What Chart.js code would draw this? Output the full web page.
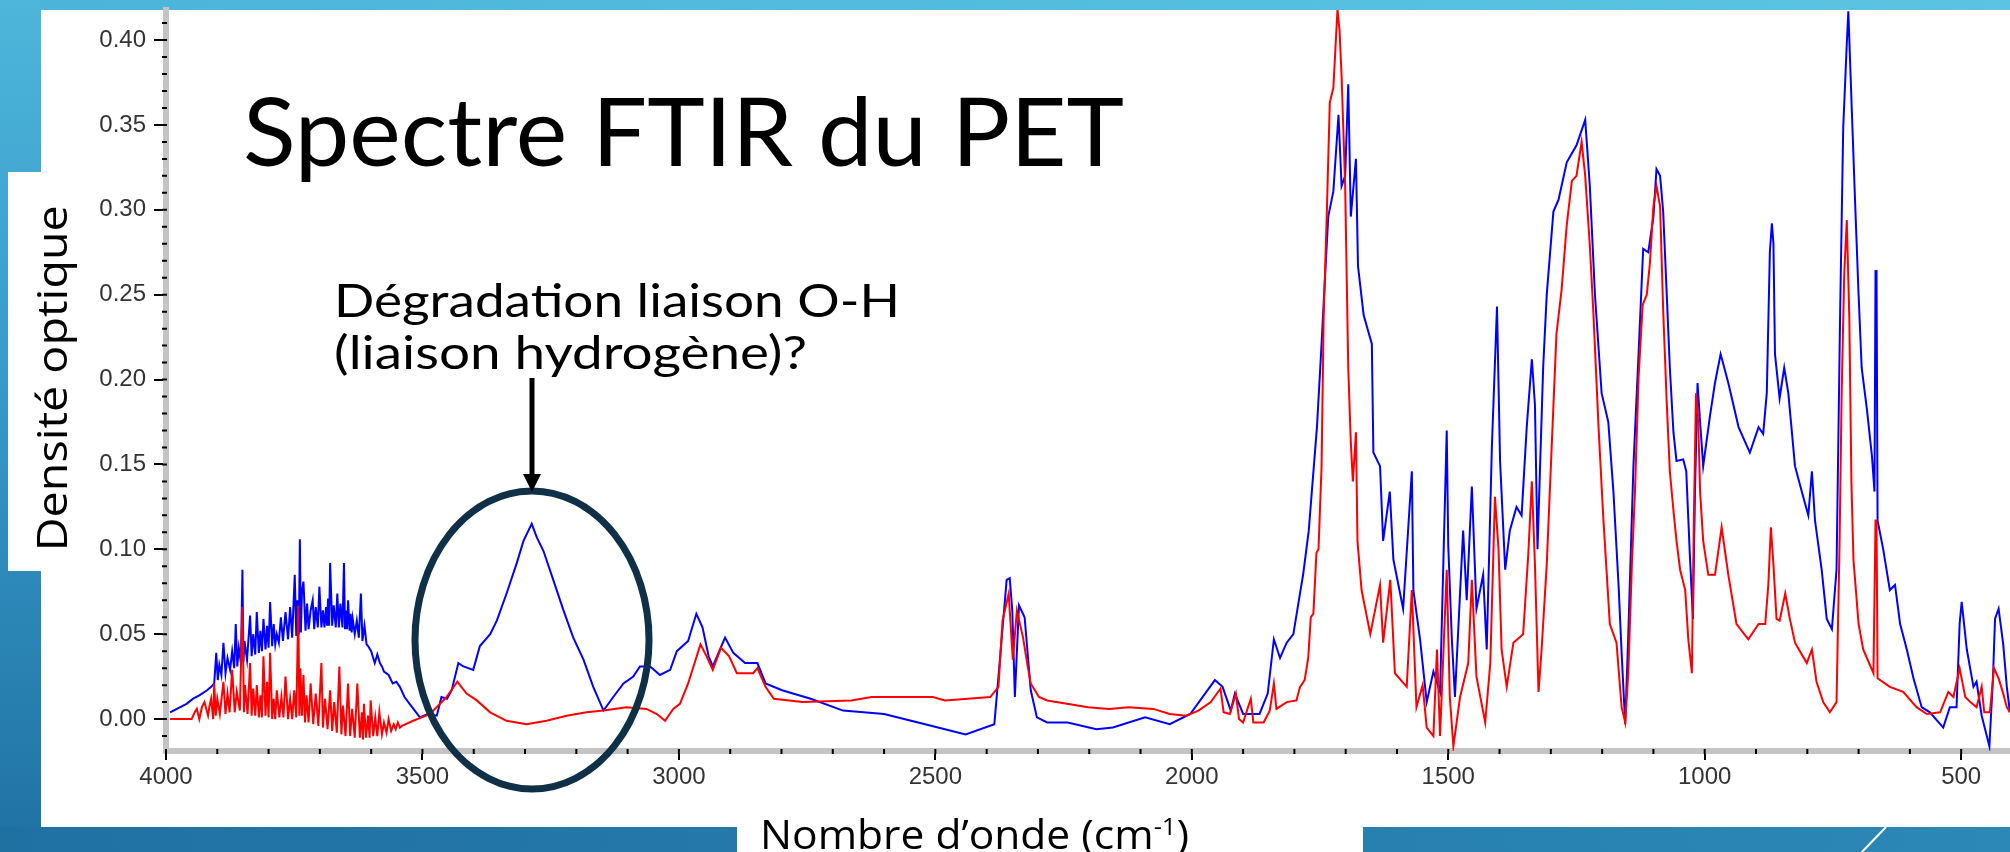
<!DOCTYPE html>
<html lang="fr">
<head>
<meta charset="utf-8">
<title>Spectre FTIR du PET</title>
<script src="https://cdn.jsdelivr.net/npm/chart.js"></script>
<style>
    body { margin: 0; }
    #slide { position: relative; width: 2010px; height: 852px; overflow: hidden; background: #ffffff; }
    .band { position: absolute; }
    #topBand { left: 0; top: 0; width: 2010px; height: 10px; background: linear-gradient(90deg, #4cb4d9, #5cc4e2); }
    #leftBand { left: 0; top: 0; width: 41px; height: 852px; background: linear-gradient(180deg, #4db6da, #3596c6 50%, #1f72a3); }
    #bottomLeft { left: 0; top: 827px; width: 737px; height: 25px; background: linear-gradient(90deg, #1f71a2, #2479aa); }
    #bottomRight { left: 1363px; top: 827px; width: 647px; height: 25px; background: linear-gradient(90deg, #2780b0, #2c88b6); }
    #yBox { left: 8px; top: 172px; width: 40px; height: 399px; background: #ffffff; }
    canvas { position: absolute; left: 0; top: 0; }
    svg { position: absolute; left: 0; top: 0; }
    .txt { position: absolute; white-space: nowrap; color: #000; line-height: 1; font-feature-settings: "liga" 0, "clig" 0, "dlig" 0; }
    .txt span { display: inline-block; transform-origin: 0 50%; }
</style>
</head>
<body>
<div id="slide">
    <div class="band" id="topBand"></div>
    <div class="band" id="leftBand"></div>
    <div class="band" id="bottomLeft"></div>
    <div class="band" id="bottomRight"></div>
    <div class="band" id="yBox"></div>
    <canvas id="spectre" width="2010" height="852"></canvas>
    <svg width="2010" height="852">
        <line x1="1886" y1="827" x2="1862" y2="852" stroke="#ffffff" stroke-width="2"/>
        <ellipse cx="532" cy="640" rx="117" ry="149" fill="none" stroke="#0f3047" stroke-width="7"/>
        <line x1="532" y1="378" x2="532" y2="478" stroke="#000" stroke-width="5"/>
        <polygon points="523,474 541,474 532,492" fill="#000"/>
    </svg>
    <div class="txt" id="titre" style="left:243px; top:72px; font:95px Lato;"><span>Spectre FTIR du PET</span></div>
    <div class="txt" id="note1" style="left:334px; top:272px; font:46px Lato;"><span>Dégradation liaison O-H</span></div>
    <div class="txt" id="note2" style="left:334px; top:324px; font:46px Lato;"><span>(liaison hydrogène)?</span></div>
    <div class="txt" id="xTitre" style="left:760px; top:806px; font:40px 'Open Sans';"><span>Nombre d’onde (cm<sup style="font-size:0.6em; vertical-align:0.6em; line-height:0">-1</sup>)</span></div>
    <div class="txt" id="yTitre" style="left:-157px; top:357px; width:400px; height:42px; text-align:center; font:42px 'Open Sans'; transform:rotate(-90deg); transform-origin:50% 50%;"><span style="transform-origin:50% 50%">Densité optique</span></div>
</div>

<script>
// Axes
const xTickValues = [4000, 3500, 3000, 2500, 2000, 1500, 1000, 500];
const yTickValues = [0.00, 0.05, 0.10, 0.15, 0.20, 0.25, 0.30, 0.35, 0.40];
const xMinorStep = 100;
const yMinorStep = 0.01;
const xRange = [404.8, 4000];
const yRange = [-0.0188, 0.4177];

// Spectre bleu : [nombre d'onde, densité optique]
const blueSpectrum = [
    [3992,0.004],[3960,0.009],[3947,0.012],[3935,0.014],[3920,0.017],[3912,0.019],[3906,0.021],[3904,0.030],
    [3902,0.039],[3899,0.023],[3896,0.032],[3892,0.026],[3888,0.045],[3884,0.027],[3880,0.036],[3875,0.029],
    [3871,0.040],[3867,0.030],[3864,0.056],[3861,0.031],[3858,0.042],[3854,0.033],[3851,0.088],[3849,0.034],
    [3847,0.046],[3842,0.035],[3836,0.061],[3833,0.037],[3830,0.050],[3826,0.038],[3823,0.063],[3819,0.039],
    [3816,0.052],[3813,0.040],[3810,0.059],[3806,0.041],[3803,0.055],[3800,0.042],[3797,0.069],[3793,0.043],
    [3790,0.056],[3787,0.044],[3784,0.050],[3780,0.045],[3776,0.060],[3772,0.046],[3767,0.063],[3762,0.047],
    [3758,0.066],[3754,0.048],[3749,0.085],[3746,0.049],[3744,0.070],[3741,0.050],[3739,0.106],[3737,0.051],
    [3735,0.075],[3732,0.081],[3728,0.052],[3725,0.068],[3722,0.053],[3718,0.064],[3714,0.070],[3711,0.053],
    [3708,0.066],[3704,0.054],[3701,0.078],[3697,0.054],[3694,0.064],[3691,0.054],[3688,0.066],[3686,0.055],
    [3684,0.071],[3682,0.055],[3680,0.092],[3676,0.055],[3673,0.067],[3669,0.054],[3666,0.074],[3663,0.054],
    [3660,0.068],[3656,0.054],[3653,0.092],[3651,0.053],[3649,0.064],[3647,0.053],[3645,0.070],[3642,0.052],
    [3640,0.062],[3638,0.051],[3636,0.059],[3632,0.050],[3628,0.058],[3624,0.048],[3620,0.074],[3617,0.046],
    [3613,0.055],[3609,0.044],[3606,0.043],[3600,0.040],[3593,0.033],[3588,0.038],[3583,0.033],[3579,0.031],
    [3575,0.028],[3566,0.026],[3558,0.021],[3551,0.022],[3544,0.019],[3535,0.013],[3525,0.009],[3515,0.005],
    [3505,0.001],[3490,0.003],[3472,0.002],[3463,0.013],[3452,0.012],[3443,0.017],[3430,0.033],[3420,0.031],
    [3401,0.029],[3388,0.043],[3368,0.050],[3355,0.058],[3336,0.074],[3316,0.092],[3303,0.105],[3287,0.115],
    [3277,0.107],[3264,0.099],[3245,0.082],[3225,0.064],[3206,0.048],[3186,0.035],[3167,0.019],[3147,0.005],
    [3128,0.013],[3108,0.021],[3089,0.025],[3076,0.031],[3056,0.031],[3037,0.026],[3017,0.029],[3004,0.040],
    [2982,0.046],[2966,0.062],[2954,0.054],[2942,0.037],[2934,0.031],[2910,0.048],[2894,0.039],[2871,0.033],
    [2847,0.033],[2831,0.021],[2799,0.017],[2743,0.012],[2680,0.005],[2600,0.003],[2520,-0.003],[2441,-0.009],
    [2385,-0.003],[2377,0.025],[2361,0.082],[2355,0.083],[2350,0.064],[2345,0.013],[2337,0.067],[2326,0.060],
    [2314,0.017],[2302,0.001],[2282,-0.002],[2242,-0.002],[2186,-0.006],[2154,-0.005],[2091,0.001],[2043,-0.003],
    [2003,0.003],[1955,0.023],[1940,0.019],[1924,0.005],[1916,0.015],[1900,0.003],[1868,0.003],[1852,0.015],
    [1840,0.047],[1828,0.036],[1815,0.045],[1802,0.050],[1788,0.076],[1783,0.085],[1772,0.111],[1766,0.134],
    [1756,0.172],[1747,0.221],[1740,0.262],[1734,0.296],[1724,0.311],[1714,0.356],[1708,0.314],[1701,0.320],
    [1695,0.374],[1690,0.296],[1680,0.330],[1676,0.267],[1665,0.238],[1649,0.221],[1646,0.157],[1633,0.149],
    [1627,0.105],[1614,0.134],[1607,0.094],[1588,0.065],[1571,0.146],[1568,0.076],[1555,0.047],[1542,0.010],
    [1529,0.028],[1516,0.016],[1503,0.170],[1500,0.102],[1493,0.047],[1487,0.013],[1471,0.111],[1464,0.070],
    [1454,0.137],[1445,0.065],[1432,0.085],[1425,0.041],[1415,0.160],[1405,0.243],[1399,0.152],[1389,0.088],
    [1380,0.111],[1367,0.125],[1357,0.120],[1347,0.172],[1337,0.212],[1331,0.185],[1326,0.100],[1315,0.207],
    [1308,0.250],[1295,0.299],[1285,0.306],[1269,0.328],[1250,0.338],[1233,0.353],[1224,0.314],[1214,0.250],
    [1201,0.192],[1188,0.175],[1178,0.134],[1168,0.079],[1162,0.039],[1155,-0.003],[1149,0.050],[1139,0.149],
    [1129,0.215],[1120,0.277],[1110,0.275],[1100,0.296],[1094,0.324],[1087,0.320],[1081,0.299],[1074,0.250],
    [1068,0.207],[1061,0.169],[1055,0.152],[1042,0.153],[1036,0.146],[1029,0.097],[1023,0.059],[1019,0.134],
    [1014,0.198],[1009,0.175],[1003,0.149],[990,0.178],[980,0.198],[969,0.215],[954,0.198],[934,0.172],
    [912,0.157],[895,0.172],[886,0.168],[879,0.192],[873,0.275],[869,0.292],[866,0.280],[863,0.215],
    [854,0.189],[845,0.207],[837,0.192],[824,0.149],[808,0.131],[798,0.120],[791,0.146],[785,0.117],
    [772,0.088],[762,0.059],[752,0.053],[743,0.088],[736,0.239],[730,0.348],[723,0.398],[720,0.417],
    [713,0.357],[707,0.306],[700,0.250],[694,0.207],[684,0.183],[674,0.155],[669,0.134],[667,0.264],
    [665,0.264],[663,0.117],[652,0.100],[639,0.076],[629,0.079],[619,0.056],[606,0.041],[593,0.024],
    [577,0.007],[561,0.004],[535,-0.005],[522,0.007],[509,0.007],[503,0.056],[499,0.069],[489,0.041],
    [476,0.019],[470,0.022],[460,0.002],[450,-0.010],[445,-0.016],[438,0.024],[434,0.059],[427,0.065],
    [418,0.044],[411,0.019],[405,0.004]
];

// Spectre rouge
const redSpectrum = [
    [3992,0.000],[3950,0.000],[3944,0.004],[3940,0.006],[3935,0.000],[3930,0.007],[3925,0.010],[3918,0.002],
    [3915,0.008],[3912,0.012],[3908,0.000],[3906,0.021],[3903,0.002],[3900,0.012],[3895,0.003],[3888,0.022],
    [3884,0.003],[3880,0.015],[3876,0.004],[3871,0.029],[3866,0.004],[3862,0.016],[3856,0.005],[3851,0.066],
    [3848,0.004],[3846,0.020],[3841,0.003],[3836,0.033],[3833,0.002],[3830,0.018],[3826,0.002],[3823,0.020],
    [3819,0.001],[3816,0.014],[3813,0.001],[3810,0.037],[3806,0.002],[3803,0.022],[3800,0.001],[3797,0.039],
    [3793,0.000],[3790,0.012],[3787,0.000],[3784,0.017],[3779,0.001],[3775,0.013],[3771,0.001],[3767,0.025],
    [3762,0.000],[3758,0.012],[3754,0.000],[3750,0.017],[3746,0.001],[3742,0.067],[3740,0.002],[3738,0.030],
    [3735,0.002],[3732,0.026],[3729,-0.002],[3726,0.014],[3722,-0.002],[3718,0.021],[3713,-0.003],[3708,0.015],
    [3703,-0.004],[3697,0.033],[3694,-0.005],[3690,0.012],[3685,-0.006],[3680,0.017],[3676,-0.007],[3672,0.010],
    [3667,-0.008],[3662,0.031],[3658,-0.009],[3655,0.008],[3650,-0.010],[3645,0.021],[3641,-0.010],[3637,0.006],
    [3632,-0.011],[3627,0.021],[3622,-0.011],[3618,0.004],[3616,-0.012],[3614,0.009],[3610,-0.011],[3606,0.002],
    [3603,-0.011],[3601,0.011],[3596,-0.010],[3592,0.001],[3588,-0.010],[3584,0.004],[3579,-0.009],[3575,-0.002],
    [3570,-0.008],[3566,0.000],[3561,-0.007],[3556,-0.003],[3552,-0.006],[3548,-0.002],[3544,-0.005],[3540,-0.004],
    [3518,-0.001],[3485,0.003],[3453,0.013],[3432,0.022],[3414,0.015],[3394,0.011],[3368,0.004],[3336,-0.001],
    [3297,-0.003],[3258,-0.001],[3219,0.002],[3180,0.004],[3147,0.005],[3102,0.007],[3063,0.006],[3043,0.003],
    [3027,-0.001],[3011,0.006],[2998,0.009],[2982,0.021],[2958,0.044],[2946,0.037],[2934,0.029],[2918,0.042],
    [2902,0.037],[2887,0.027],[2855,0.027],[2847,0.030],[2831,0.019],[2815,0.012],[2759,0.010],[2664,0.011],
    [2624,0.013],[2505,0.013],[2481,0.011],[2393,0.013],[2377,0.019],[2369,0.058],[2357,0.074],[2349,0.035],
    [2341,0.064],[2329,0.048],[2321,0.033],[2314,0.021],[2298,0.013],[2282,0.011],[2202,0.007],[2162,0.006],
    [2123,0.007],[2075,0.006],[2043,0.003],[2011,0.002],[1987,0.005],[1963,0.010],[1944,0.018],[1938,0.004],
    [1926,0.003],[1914,0.015],[1908,0.000],[1900,-0.002],[1885,0.012],[1880,-0.002],[1860,-0.002],[1848,0.005],
    [1840,0.021],[1835,0.006],[1815,0.010],[1796,0.011],[1789,0.019],[1780,0.023],[1773,0.036],[1768,0.060],
    [1763,0.062],[1757,0.098],[1753,0.100],[1747,0.149],[1743,0.236],[1737,0.296],[1731,0.363],[1724,0.372],
    [1716,0.418],[1712,0.406],[1708,0.379],[1701,0.314],[1695,0.207],[1690,0.163],[1686,0.140],[1680,0.169],
    [1677,0.105],[1669,0.076],[1652,0.050],[1633,0.079],[1627,0.045],[1613,0.082],[1604,0.027],[1581,0.019],
    [1571,0.076],[1562,0.007],[1550,0.020],[1542,-0.005],[1529,-0.010],[1522,0.041],[1516,-0.010],[1503,0.088],
    [1497,0.013],[1490,-0.016],[1477,0.013],[1461,0.033],[1454,0.082],[1445,0.025],[1428,-0.002],[1418,0.033],
    [1409,0.131],[1402,0.100],[1396,0.041],[1386,0.019],[1373,0.045],[1354,0.050],[1344,0.097],[1337,0.140],
    [1331,0.091],[1324,0.016],[1318,0.041],[1308,0.091],[1298,0.163],[1289,0.227],[1279,0.253],[1269,0.291],
    [1259,0.317],[1250,0.320],[1240,0.340],[1233,0.320],[1224,0.279],[1217,0.239],[1207,0.172],[1198,0.120],
    [1185,0.056],[1172,0.045],[1162,0.007],[1155,-0.002],[1149,0.027],[1142,0.091],[1136,0.134],[1129,0.201],
    [1121,0.244],[1113,0.250],[1107,0.268],[1100,0.302],[1094,0.314],[1087,0.302],[1081,0.241],[1074,0.186],
    [1068,0.146],[1061,0.123],[1055,0.105],[1048,0.088],[1038,0.076],[1032,0.047],[1025,0.027],[1021,0.120],
    [1017,0.192],[1013,0.178],[1009,0.134],[1003,0.105],[993,0.085],[980,0.085],[967,0.113],[954,0.085],
    [938,0.056],[915,0.047],[895,0.056],[882,0.056],[876,0.079],[871,0.113],[866,0.091],[860,0.059],
    [854,0.058],[843,0.074],[834,0.059],[824,0.045],[801,0.033],[791,0.041],[782,0.022],[769,0.010],
    [756,0.004],[743,0.010],[737,0.105],[733,0.192],[728,0.262],[723,0.294],[718,0.235],[714,0.140],
    [710,0.094],[700,0.056],[691,0.041],[671,0.027],[667,0.117],[665,0.117],[663,0.024],[639,0.019],
    [613,0.016],[587,0.007],[567,0.003],[541,0.004],[525,0.016],[515,0.013],[503,0.030],[492,0.013],
    [482,0.010],[470,0.007],[460,0.019],[455,0.004],[444,0.004],[436,0.030],[427,0.024],[418,0.015],
    [411,0.007],[405,0.004]
];

const toPoints = spectrum => spectrum.map(p => ({ x: p[0], y: p[1] }));

// Petites graduations sur les axes gris
const minorTicks = {
    id: 'minorTicks',
    afterDraw(chart) {
        const { ctx, chartArea, scales: { x, y } } = chart;
        ctx.save();
        ctx.strokeStyle = '#000';
        ctx.lineWidth = 2;
        ctx.beginPath();
        for (let w = xRange[1]; w >= xTickValues[xTickValues.length - 1]; w -= xMinorStep) {
            const px = x.getPixelForValue(w);
            ctx.moveTo(px, chartArea.bottom - 2);
            ctx.lineTo(px, chartArea.bottom + 3);
        }
        for (let k = Math.ceil(yRange[0] / yMinorStep); k * yMinorStep <= yRange[1]; k++) {
            const py = y.getPixelForValue(k * yMinorStep);
            ctx.moveTo(chartArea.left - 4, py);
            ctx.lineTo(chartArea.left + 1, py);
        }
        ctx.stroke();
        ctx.restore();
    }
};

const tickFont = { family: 'Liberation Sans', size: 24 };

new Chart(document.getElementById('spectre'), {
    type: 'line',
    data: {
        datasets: [
            { label: 'rouge', data: toPoints(redSpectrum), borderColor: '#ff0000', borderWidth: 2 },
            { label: 'bleu', data: toPoints(blueSpectrum), borderColor: '#0000ff', borderWidth: 2 }
        ]
    },
    options: {
        responsive: false,
        animation: false,
        events: [],
        layout: { padding: { top: 10, left: 0, right: 0, bottom: 0 } },
        elements: { point: { radius: 0 }, line: { tension: 0, fill: false } },
        plugins: { legend: { display: false }, tooltip: { enabled: false } },
        scales: {
            x: {
                type: 'linear',
                reverse: true,
                min: xRange[0],
                max: xRange[1],
                afterBuildTicks: s => { s.ticks = xTickValues.map(v => ({ value: v })); },
                afterFit: s => { s.height = 101; s.paddingLeft = 0; s.paddingRight = 0; },
                ticks: { font: tickFont, color: '#333', padding: 3, maxRotation: 0, autoSkip: false, callback: v => String(v) },
                grid: { drawOnChartArea: false, drawTicks: true, tickLength: 9, color: '#000', lineWidth: 2 },
                border: { color: '#c4c4c4', width: 6 }
            },
            y: {
                min: yRange[0],
                max: yRange[1],
                afterBuildTicks: s => { s.ticks = yTickValues.map(v => ({ value: v })); },
                afterFit: s => { s.width = 166; s.paddingTop = 0; s.paddingBottom = 0; },
                ticks: { font: tickFont, color: '#333', padding: 8, callback: v => v.toFixed(2) },
                grid: { drawOnChartArea: false, drawTicks: true, tickLength: 12, color: '#000', lineWidth: 2 },
                border: { color: '#c4c4c4', width: 6 }
            }
        }
    },
    plugins: [minorTicks]
});

// Ajuster la largeur des textes
function fitWidth(id, target) {
    const span = document.querySelector('#' + id + ' span');
    const w = span.getBoundingClientRect().width;
    span.style.transform = 'scaleX(' + (target / w) + ')';
}
fitWidth('titre', 881);
fitWidth('note1', 566);
fitWidth('note2', 473);
fitWidth('xTitre', 429);
// titre vertical : mesurer avant rotation
(function () {
    const box = document.getElementById('yTitre');
    const span = box.querySelector('span');
    box.style.transform = 'none';
    const w = span.getBoundingClientRect().width;
    span.style.transform = 'scaleX(' + (346 / w) + ')';
    box.style.transform = 'rotate(-90deg)';
})();
</script>
</body>
</html>
